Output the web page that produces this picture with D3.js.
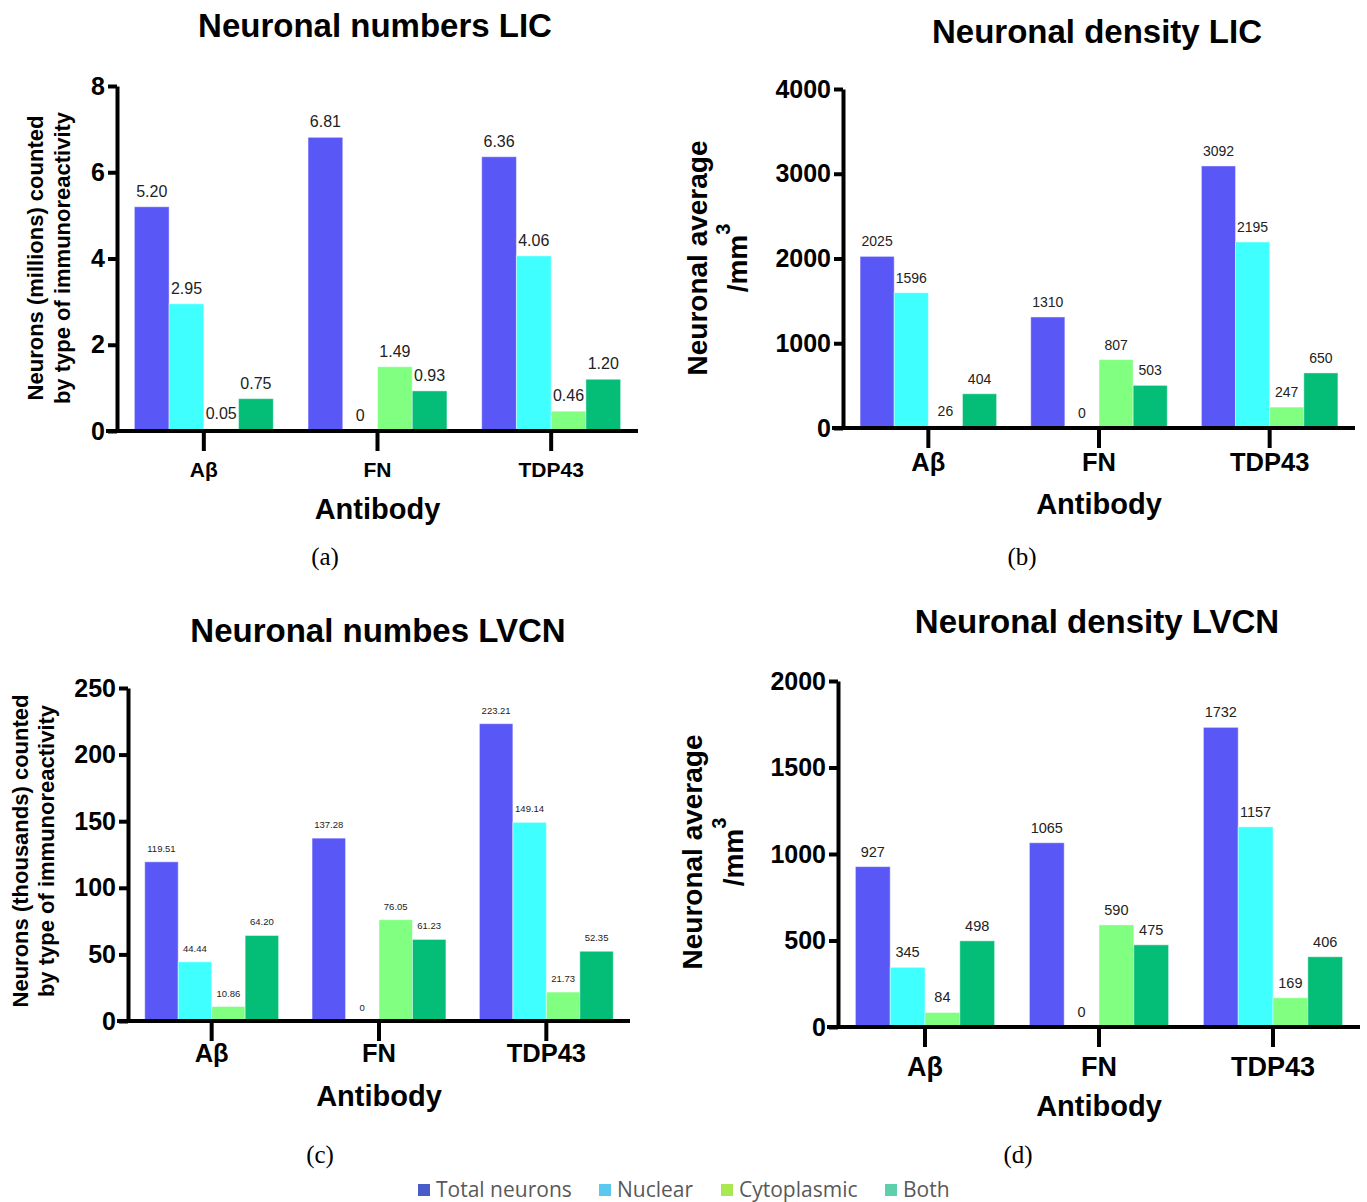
<!DOCTYPE html>
<html>
<head>
<meta charset="utf-8">
<script src="https://cdn.jsdelivr.net/npm/d3@7"></script>
<style>
  body { margin: 0; background: #ffffff; }
  svg { display: block; }
</style>
</head>
<body>
<div id="chart"></div>
<script>
// categories and series
const categories = ["A\u03B2", "FN", "TDP43"];
const seriesNames = ["Total neurons", "Nuclear", "Cytoplasmic", "Both"];
const seriesColors = ["#5a57f7", "#40ffff", "#80ff80", "#04be78"];
const legendColors = ["#4a5cc8", "#5bc8f0", "#a9e84f", "#5cd0aa"];

// (a) neuronal numbers LIC (millions)
const licTotal = [5.20, 6.81, 6.36];
const licNuclear = [2.95, 0, 4.06];
const licCyto = [0.05, 1.49, 0.46];
const licBoth = [0.75, 0.93, 1.20];
const licTicks = [0, 2, 4, 6, 8];

// (b) neuronal density LIC (/mm3)
const licDensTotal = [2025, 1310, 3092];
const licDensNuclear = [1596, 0, 2195];
const licDensCyto = [26, 807, 247];
const licDensBoth = [404, 503, 650];
const licDensTicks = [0, 1000, 2000, 3000, 4000];

// (c) neuronal numbers LVCN (thousands)
const lvcnTotal = [119.51, 137.28, 223.21];
const lvcnNuclear = [44.44, 0, 149.14];
const lvcnCyto = [10.86, 76.05, 21.73];
const lvcnBoth = [64.20, 61.23, 52.35];
const lvcnTicks = [0, 50, 100, 150, 200, 250];

// (d) neuronal density LVCN (/mm3)
const lvcnDensTotal = [927, 1065, 1732];
const lvcnDensNuclear = [345, 0, 1157];
const lvcnDensCyto = [84, 590, 169];
const lvcnDensBoth = [498, 475, 406];
const lvcnDensTicks = [0, 500, 1000, 1500, 2000];

const fmt2 = v => v === 0 ? "0" : v.toFixed(2);
const fmt0 = v => String(v);

const panels = [
  {
    title: "Neuronal numbers LIC", titleX: 375, titleY: 37,
    series: [licTotal, licNuclear, licCyto, licBoth], ticks: licTicks,
    x0: 117, x1: 638, yTop: 86, yBottom: 431,
    ylab: ["Neurons (millions) counted", "by type of immunoreactivity"], ylabX: [35, 62], ylabY: 258, ylabSize: 22,
    tickSize: 25, catSize: 21, catY: 477, valSize: 16, fmt: fmt2,
    axisTitleY: 519, tag: "(a)", tagX: 325, tagY: 565
  },
  {
    title: "Neuronal density LIC", titleX: 1097, titleY: 43,
    series: [licDensTotal, licDensNuclear, licDensCyto, licDensBoth], ticks: licDensTicks,
    x0: 843, x1: 1355, yTop: 89, yBottom: 428,
    ylab: ["Neuronal average", "/mm"], ylabX: [697, 737], ylabY: 258, ylabSize: 28, sup: true,
    tickSize: 25, catSize: 25.5, catY: 471, valSize: 14, fmt: fmt0,
    axisTitleY: 514, tag: "(b)", tagX: 1022, tagY: 565
  },
  {
    title: "Neuronal numbes LVCN", titleX: 378, titleY: 642,
    series: [lvcnTotal, lvcnNuclear, lvcnCyto, lvcnBoth], ticks: lvcnTicks,
    x0: 128, x1: 630, yTop: 688, yBottom: 1021,
    ylab: ["Neurons (thousands) counted", "by type of immunoreactivity"], ylabX: [20, 46], ylabY: 851, ylabSize: 22,
    tickSize: 25, catSize: 25.5, catY: 1062, valSize: 9.5, fmt: fmt2,
    axisTitleY: 1106, tag: "(c)", tagX: 320, tagY: 1163
  },
  {
    title: "Neuronal density LVCN", titleX: 1097, titleY: 633,
    series: [lvcnDensTotal, lvcnDensNuclear, lvcnDensCyto, lvcnDensBoth], ticks: lvcnDensTicks,
    x0: 838, x1: 1360, yTop: 681, yBottom: 1027,
    ylab: ["Neuronal average", "/mm"], ylabX: [692, 733], ylabY: 852, ylabSize: 28, sup: true,
    tickSize: 25, catSize: 27, catY: 1076, valSize: 14.5, fmt: fmt0,
    axisTitleY: 1116, tag: "(d)", tagX: 1018, tagY: 1163
  }
];

const W = 1367, H = 1202;
const svg = d3.select("#chart").append("svg")
  .attr("width", W).attr("height", H)
  .style("font-family", "'Liberation Sans', Arial, sans-serif");

panels.forEach(p => {
  const g = svg.append("g");
  const yMax = d3.max(p.ticks);

  const x = d3.scaleBand().domain(categories).range([p.x0, p.x1])
    .paddingInner(0.2).paddingOuter(0.1);
  const xs = d3.scaleBand().domain(d3.range(seriesNames.length))
    .range([0, x.bandwidth()]).padding(0);
  const y = d3.scaleLinear().domain([0, yMax]).range([p.yBottom, p.yTop]);

  // title
  g.append("text")
    .attr("x", p.titleX).attr("y", p.titleY)
    .attr("text-anchor", "middle")
    .style("font-size", "33px").style("font-weight", "bold")
    .text(p.title);

  // bars
  const rows = [];
  p.series.forEach((vals, si) => {
    vals.forEach((v, ci) => rows.push({ si, ci, v }));
  });

  g.selectAll("rect.bar").data(rows).enter().append("rect")
    .attr("class", "bar")
    .attr("x", d => x(categories[d.ci]) + xs(d.si))
    .attr("width", xs.bandwidth())
    .attr("y", d => y(d.v))
    .attr("height", d => y(0) - y(d.v))
    .attr("fill", d => seriesColors[d.si])
    .attr("stroke", "rgba(255,255,255,0.45)")
    .attr("stroke-width", 1);

  g.selectAll("text.val").data(rows).enter().append("text")
    .attr("class", "val")
    .attr("x", d => x(categories[d.ci]) + xs(d.si) + xs.bandwidth() / 2)
    .attr("y", d => y(d.v) - 10)
    .attr("text-anchor", "middle")
    .style("font-size", p.valSize + "px")
    .style("fill", "#222")
    .text(d => p.fmt(d.v));

  // y axis
  const yAxis = g.append("g")
    .attr("transform", `translate(${p.x0},0)`)
    .call(d3.axisLeft(y).tickValues(p.ticks).tickFormat(d3.format("d"))
      .tickSize(9).tickSizeOuter(0).tickPadding(3));
  yAxis.select(".domain").attr("stroke", "#000").attr("stroke-width", 4);
  yAxis.selectAll(".tick line").attr("stroke", "#000").attr("stroke-width", 4);
  yAxis.selectAll(".tick text")
    .style("font-size", p.tickSize + "px").style("font-weight", "bold")
    .style("font-family", "'Liberation Sans', Arial, sans-serif")
    .attr("fill", "#000");

  // x axis
  const xAxis = g.append("g")
    .attr("transform", `translate(0,${p.yBottom})`)
    .call(d3.axisBottom(x).tickSize(20).tickSizeOuter(0).tickFormat(() => ""));
  xAxis.select(".domain").attr("stroke", "#000").attr("stroke-width", 4)
    .attr("d", `M${p.x0 - 11},0H${p.x1}`);
  xAxis.selectAll(".tick line").attr("stroke", "#000").attr("stroke-width", 4);

  // category labels
  g.selectAll("text.cat").data(categories).enter().append("text")
    .attr("class", "cat")
    .attr("x", d => x(d) + x.bandwidth() / 2)
    .attr("y", p.catY)
    .attr("text-anchor", "middle")
    .style("font-size", p.catSize + "px").style("font-weight", "bold")
    .text(d => d);

  // axis title
  g.append("text")
    .attr("x", (p.x0 + p.x1) / 2).attr("y", p.axisTitleY)
    .attr("text-anchor", "middle")
    .style("font-size", "29px").style("font-weight", "bold")
    .text("Antibody");

  // y label
  p.ylab.forEach((line, i) => {
    const t = g.append("text")
      .attr("transform", `translate(${p.ylabX[i]},${p.ylabY}) rotate(-90)`)
      .attr("text-anchor", "middle")
      .attr("dominant-baseline", "central")
      .style("font-size", p.ylabSize + "px").style("font-weight", "bold")
      .text(line);
    if (p.sup && i === 1) {
      t.append("tspan").attr("dy", -14).style("font-size", "20px").text("3");
    }
  });

  // panel tag
  g.append("text")
    .attr("x", p.tagX).attr("y", p.tagY)
    .attr("text-anchor", "middle")
    .style("font-family", "'Liberation Serif', 'DejaVu Serif', serif")
    .style("font-size", "25px")
    .text(p.tag);
});

// legend
const legendX = [418, 599, 721, 885];
const legend = svg.append("g").attr("transform", "translate(0,1190)");
seriesNames.forEach((name, i) => {
  const item = legend.append("g").attr("transform", `translate(${legendX[i]},0)`);
  item.append("rect").attr("x", 0).attr("y", -6).attr("width", 12).attr("height", 12)
    .attr("fill", legendColors[i]);
  item.append("text").attr("x", 18).attr("y", 7)
    .style("font-family", "'Open Sans', Lato, sans-serif")
    .style("font-size", "21px").style("fill", "#595959")
    .text(name);
});
</script>
</body>
</html>
